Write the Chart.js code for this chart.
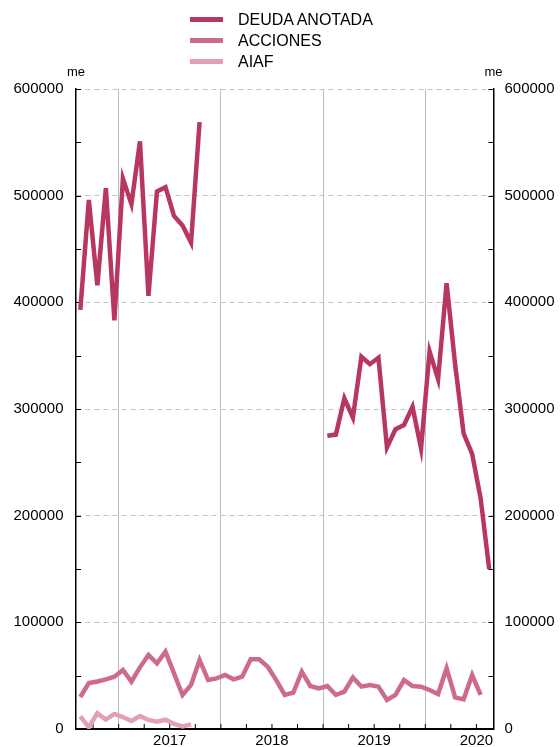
<!DOCTYPE html>
<html>
<head>
<meta charset="utf-8">
<script src="https://cdn.jsdelivr.net/npm/chart.js@4.4.1/dist/chart.umd.min.js"></script>
<style>
html, body { margin: 0; padding: 0; background: #fff; overflow: hidden; }
#wrap { position: relative; width: 566px; height: 753px; }
#legend { position: absolute; left: 190px; top: 9px; font: 16px "Liberation Sans", Arial, sans-serif; color: #000; }
#legend div { height: 21px; display: flex; align-items: center; }
#legend .sw { display: inline-block; width: 33px; height: 4.5px; margin-right: 15px; }
</style>
</head>
<body>
<div id="wrap"><canvas id="c"></canvas><div id="legend"></div></div>
<script>
// meses (ago 2016 - ago 2020)
var months = [
  '2016-08', '2016-09', '2016-10', '2016-11', '2016-12',
  '2017-01', '2017-02', '2017-03', '2017-04', '2017-05', '2017-06',
  '2017-07', '2017-08', '2017-09', '2017-10', '2017-11', '2017-12',
  '2018-01', '2018-02', '2018-03', '2018-04', '2018-05', '2018-06',
  '2018-07', '2018-08', '2018-09', '2018-10', '2018-11', '2018-12',
  '2019-01', '2019-02', '2019-03', '2019-04', '2019-05', '2019-06',
  '2019-07', '2019-08', '2019-09', '2019-10', '2019-11', '2019-12',
  '2020-01', '2020-02', '2020-03', '2020-04', '2020-05', '2020-06',
  '2020-07', '2020-08'
];

var deuda = [
  393000, 496000, 416000, 507000, 383000,
  516000, 492000, 551000, 406000, 504000, 508000,
  481000, 472000, 456000, 569000, null, null,
  null, null, null, null, null, null,
  null, null, null, null, null, null,
  275000, 276000, 310000, 292000, 349000, 342000,
  348000, 264000, 281000, 285000, 302000, 263000,
  354000, 328000, 418000, 342000, 277000, 258000,
  216000, 150000
];

var acciones = [
  30000, 43000, 44500, 46500, 49000,
  55300, 44400, 57800, 69400, 61600, 72500,
  52200, 31900, 41300, 64700, 45900, 47500,
  50600, 46600, 49000, 65300, 65300, 58400,
  45900, 31900, 34000, 53700, 40300, 38100,
  40300, 31900, 35000, 48400, 39700, 41300,
  39700, 27200, 31900, 45900, 40300, 39700,
  36600, 32800, 57000, 29700, 27800, 50600,
  31900, null
];

var aiaf = [
  11800, 1600, 14700, 8800, 14100,
  11200, 7500, 12200, 8500, 6800, 8700,
  4700, 2500, 4300, null, null, null,
  null, null, null, null, null, null,
  null, null, null, null, null, null,
  null, null, null, null, null, null,
  null, null, null, null, null, null,
  null, null, null, null, null, null,
  null, null
];

var yTicks = [0, 100000, 200000, 300000, 400000, 500000, 600000];

var seriesNames = ['DEUDA ANOTADA', 'ACCIONES', 'AIAF'];
var seriesColors = ['#b8375f', '#cd6b8b', '#e2a0b5'];

var tickFont = { family: '"Liberation Sans", Arial, sans-serif', size: 15, lineHeight: 1.2 };

// marcas interiores de los ejes y etiquetas "me"
var innerTicks = {
  id: 'innerTicks',
  beforeDatasetsDraw: function(chart) {
    var c = chart.ctx, a = chart.chartArea, x = chart.scales.x, y = chart.scales.y;
    c.save();
    c.strokeStyle = '#000';
    c.lineWidth = 1;
    c.beginPath();
    for (var v = 0; v <= 600000; v += 50000) {
      var py = Math.round(y.getPixelForValue(v)) + 0.5;
      c.moveTo(a.left, py); c.lineTo(a.left + 5, py);
      c.moveTo(a.right, py); c.lineTo(a.right - 5, py);
    }
    var half = (x.getPixelForValue(1) - x.getPixelForValue(0)) / 2;
    months.forEach(function(m, i) {
      var mo = +m.slice(5);
      if ((mo - 1) % 3 === 0) {
        var px = x.getPixelForValue(i) - half;
        c.moveTo(px, a.bottom); c.lineTo(px, a.bottom - 5);
      }
    });
    c.stroke();
    c.fillStyle = '#000';
    c.font = '13px "Liberation Sans", Arial, sans-serif';
    c.textAlign = 'center';
    c.textBaseline = 'middle';
    c.fillText('me', a.left, 72);
    c.fillText('me', a.right, 72);
    c.restore();
  }
};

var datasets = [deuda, acciones, aiaf].map(function(d, i) {
  return {
    label: seriesNames[i],
    data: d,
    borderColor: seriesColors[i],
    backgroundColor: seriesColors[i],
    borderWidth: 4.5,
    pointRadius: 0,
    tension: 0,
    fill: false,
    yAxisID: 'y'
  };
});

var ctx = document.getElementById('c');
var myChart = new Chart(ctx, {
  type: 'line',
  data: { labels: months, datasets: datasets },
  options: {
    responsive: true,
    maintainAspectRatio: false,
    animation: false,
    layout: { padding: { top: 89, left: 1, right: 0.5, bottom: 0 } },
    plugins: { legend: { display: false }, tooltip: { enabled: false } },
    scales: {
      x: {
        type: 'category',
        offset: true,
        grid: {
          offset: true,
          drawTicks: false,
          lineWidth: 1,
          color: function(c) {
            if (c.index === undefined || !months[c.index]) return 'rgba(0,0,0,0)';
            return months[c.index].slice(5) === '01' ? '#bdbdbd' : 'rgba(0,0,0,0)';
          }
        },
        border: { display: true, color: '#000', width: 2 },
        ticks: {
          autoSkip: false,
          maxRotation: 0,
          minRotation: 0,
          padding: 3,
          labelOffset: -4.26,
          color: '#000',
          font: tickFont,
          callback: function(v, i) {
            var m = months[i];
            return m.slice(5) === '07' ? m.slice(0, 4) : '';
          }
        }
      },
      y: {
        position: 'left',
        min: 0,
        max: 600000,
        afterBuildTicks: function(s) { s.ticks = yTicks.map(function(v) { return { value: v }; }); },
        grid: { color: '#c4c4c4', lineWidth: 1, drawTicks: false },
        border: { display: true, color: '#000', width: 1.5, dash: [5, 4] },
        ticks: { padding: 12.5, color: '#000', font: tickFont, callback: function(v) { return String(v); } }
      },
      y2: {
        position: 'right',
        min: 0,
        max: 600000,
        afterBuildTicks: function(s) { s.ticks = yTicks.map(function(v) { return { value: v }; }); },
        grid: { drawOnChartArea: false, drawTicks: false },
        border: { display: true, color: '#000', width: 1.5 },
        ticks: { padding: 11, color: '#000', font: tickFont, callback: function(v) { return String(v); } }
      }
    }
  },
  plugins: [innerTicks]
});

// leyenda vertical
var leg = document.getElementById('legend');
seriesNames.forEach(function(n, i) {
  var row = document.createElement('div');
  var sw = document.createElement('span');
  sw.className = 'sw';
  sw.style.background = seriesColors[i];
  row.appendChild(sw);
  row.appendChild(document.createTextNode(n));
  leg.appendChild(row);
});
</script>
</body>
</html>
